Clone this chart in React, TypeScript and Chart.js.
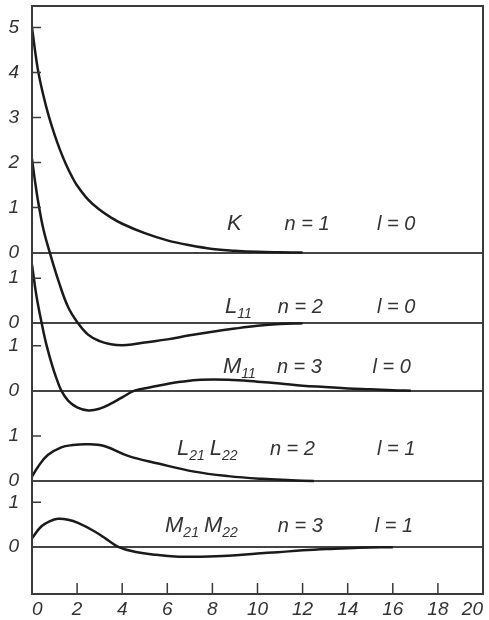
import { useEffect, useRef } from 'react';
import { Chart, registerables } from 'chart.js';

Chart.register(...registerables);

// ---- data (r in Bohr units, value of the radial function) ----
const kR = [0, 0.25, 0.5, 0.75, 1, 1.25, 1.5, 1.75, 2, 2.5, 3, 3.5, 4, 5, 6, 7, 8, 9, 10, 11, 12];
const kV = [5.0, 4.1, 3.5, 3.02, 2.62, 2.27, 1.97, 1.71, 1.49, 1.17, 0.95, 0.78, 0.64, 0.43, 0.27, 0.16, 0.08, 0.04, 0.015, 0.005, 0];

const l11R = [0, 0.15, 0.3, 0.5, 0.8, 1.2, 1.6, 2.04, 2.5, 3, 3.5, 4, 4.5, 5, 6, 7, 8, 9, 10, 11, 12];
const l11V = [3.65, 3.1, 2.62, 2.1, 1.55, 0.9, 0.36, 0, -0.26, -0.4, -0.47, -0.49, -0.47, -0.43, -0.36, -0.27, -0.19, -0.12, -0.06, -0.02, 0];

const m11R = [0, 0.2, 0.45, 0.65, 0.9, 1.1, 1.3, 1.6, 2.0, 2.5, 3.0, 3.5, 4.0, 4.55, 5.2, 6, 6.5, 7.5, 8.7, 10, 11, 12, 13, 14, 15, 16, 16.8];
const m11V = [2.8, 2.1, 1.45, 1.0, 0.55, 0.25, 0, -0.22, -0.37, -0.44, -0.4, -0.29, -0.15, 0, 0.07, 0.15, 0.19, 0.24, 0.24, 0.2, 0.16, 0.11, 0.08, 0.05, 0.03, 0.01, 0];

const l21R = [0, 0.27, 0.7, 1.3, 1.8, 2.4, 3.2, 4.26, 5.6, 7.2, 8.7, 10.2, 11.5, 12.5];
const l21V = [0.1, 0.32, 0.58, 0.75, 0.8, 0.82, 0.78, 0.56, 0.39, 0.21, 0.11, 0.05, 0.02, 0];

const m21R = [0, 0.41, 0.8, 1.15, 1.6, 2.04, 2.78, 3.3, 3.85, 4.55, 5.5, 6.5, 7.5, 8.7, 10, 10.9, 12, 13.1, 14.5, 16];
const m21V = [0.2, 0.46, 0.58, 0.63, 0.61, 0.54, 0.35, 0.18, 0, -0.1, -0.17, -0.21, -0.21, -0.19, -0.14, -0.11, -0.07, -0.04, -0.01, 0];

// tick labels
const xTickStep = 2;
const kTickLabels = ['0', '1', '2', '3', '4', '5'];
const unitTickLabels = ['0', '1'];

// baseline (zero level) of every panel on the shared vertical scale
const Y_MAX = 13.07;
const zeroK = 7.59;
const zeroL11 = 6.02;
const zeroM11 = 4.52;
const zeroL21 = 2.51;
const zeroM21 = 1.04;

const panels = [
  { zero: zeroM21, ticks: unitTickLabels },
  { zero: zeroL21, ticks: unitTickLabels },
  { zero: zeroM11, ticks: unitTickLabels },
  { zero: zeroL11, ticks: unitTickLabels },
  { zero: zeroK, ticks: kTickLabels },
];
const yTickPairs = panels
  .flatMap((p) => p.ticks.map((t) => ({ v: p.zero + Number(t), t })))
  .sort((a, b) => a.v - b.v);
const yTickValues = yTickPairs.map((p) => p.v);
const yTickTexts = yTickPairs.map((p) => p.t);

// annotation rows
const rows = [
  { zero: zeroK, dy: 0.5, name: [['K', '']], nameR: 8.65, nText: 'n = 1', nR: 11.2, lText: 'l = 0', lR: 15.3 },
  { zero: zeroL11, dy: 0.22, name: [['L', '11']], nameR: 8.56, nText: 'n = 2', nR: 10.9, lText: 'l = 0', lR: 15.3 },
  { zero: zeroM11, dy: 0.39, name: [['M', '11']], nameR: 8.47, nText: 'n = 3', nR: 10.86, lText: 'l = 0', lR: 15.1 },
  { zero: zeroL21, dy: 0.58, name: [['L', '21'], ['L', '22']], nameR: 6.43, nText: 'n = 2', nR: 10.55, lText: 'l = 1', lR: 15.3 },
  { zero: zeroM21, dy: 0.33, name: [['M', '21'], ['M', '22']], nameR: 5.9, nText: 'n = 3', nR: 10.9, lText: 'l = 1', lR: 15.2 },
];

const FONT = "'Liberation Sans', 'DejaVu Sans', sans-serif";
const INK = '#1a1a1a';
const TEXT = '#333';

const mk = (rs: number[], vs: number[], zero: number) => rs.map((r, i) => ({ x: r, y: zero + vs[i] }));

const decor = {
  id: 'decor',
  afterDatasetsDraw(chart: any) {
    const { ctx, chartArea: a } = chart;
    const xs = chart.scales.x;
    const ys = chart.scales.y;
    ctx.save();
    ctx.strokeStyle = '#3a3a3a';
    ctx.lineWidth = 2;
    ctx.strokeRect(a.left, a.top, a.right - a.left, a.bottom - a.top);
    ctx.lineWidth = 1.5;
    ctx.beginPath();
    yTickValues.forEach((v, i) => {
      if (yTickTexts[i] === '0') return;
      const py = ys.getPixelForValue(v);
      ctx.moveTo(a.left, py);
      ctx.lineTo(a.left + 9, py);
    });
    xs.ticks.forEach((t: any) => {
      if (t.value <= xs.min || t.value >= xs.max) return;
      const px = xs.getPixelForValue(t.value);
      ctx.moveTo(px, a.bottom);
      ctx.lineTo(px, a.bottom - 11);
    });
    ctx.stroke();

    ctx.fillStyle = TEXT;
    ctx.textBaseline = 'alphabetic';
    ctx.textAlign = 'left';
    rows.forEach((row) => {
      const by = ys.getPixelForValue(row.zero + row.dy);
      let cx = xs.getPixelForValue(row.nameR);
      row.name.forEach(([main, sub]) => {
        ctx.font = `italic 22px ${FONT}`;
        ctx.fillText(main, cx, by);
        cx += ctx.measureText(main).width;
        if (sub) {
          ctx.font = `italic 14px ${FONT}`;
          ctx.fillText(sub, cx, by + 5);
          cx += ctx.measureText(sub).width + 5;
        }
      });
      ctx.font = `italic 20px ${FONT}`;
      ctx.fillText(row.nText, xs.getPixelForValue(row.nR), by);
      ctx.fillText(row.lText, xs.getPixelForValue(row.lR), by);
    });
    ctx.restore();
  },
};

export default function App() {
  const ref = useRef<HTMLCanvasElement>(null);
  useEffect(() => {
    if (!ref.current) return;
    const line = (data: any[]) => ({
      data,
      borderColor: INK,
      borderWidth: 2.5,
      pointRadius: 0,
      fill: false,
      tension: 0.4,
    });
    const chart = new Chart(ref.current, {
      type: 'line',
      data: {
        datasets: [
          line(mk(kR, kV, zeroK)),
          line(mk(l11R, l11V, zeroL11)),
          line(mk(m11R, m11V, zeroM11)),
          line(mk(l21R, l21V, zeroL21)),
          line(mk(m21R, m21V, zeroM21)),
        ],
      },
      options: {
        responsive: false,
        maintainAspectRatio: false,
        devicePixelRatio: 1,
        animation: false,
        layout: { padding: { top: 6, right: 6, left: 0, bottom: 0 } },
        plugins: { legend: { display: false }, tooltip: { enabled: false } },
        scales: {
          x: {
            type: 'linear',
            min: 0,
            max: 20,
            position: 'bottom',
            grid: { display: false, drawTicks: false },
            border: { display: false },
            ticks: {
              stepSize: xTickStep,
              autoSkip: false,
              maxRotation: 0,
              padding: 4,
              align: 'inner',
              color: TEXT,
              font: { family: FONT, size: 19, style: 'italic' },
            },
            afterFit: (s: any) => {
              s.height = 26;
              s.paddingLeft = 0;
              s.paddingRight = 0;
            },
          },
          y: {
            type: 'linear',
            min: 0,
            max: Y_MAX,
            grid: {
              drawTicks: false,
              lineWidth: 2,
              color: (c: any) => (yTickTexts[c.index] === '0' ? '#444' : 'rgba(0,0,0,0)'),
            },
            border: { display: false },
            afterBuildTicks: (s: any) => {
              s.ticks = yTickValues.map((v) => ({ value: v }));
            },
            ticks: {
              autoSkip: false,
              padding: 13,
              color: TEXT,
              font: { family: FONT, size: 19, style: 'italic' },
              callback: (_v: any, i: number) => yTickTexts[i],
            },
            afterFit: (s: any) => {
              s.width = 32;
              s.paddingTop = 0;
              s.paddingBottom = 0;
            },
          },
        },
      },
      plugins: [decor],
    });
    return () => chart.destroy();
  }, []);
  return (
    <div style={{ position: 'absolute', left: 0, top: 0, width: 489, height: 620, background: '#fff' }}>
      <canvas ref={ref} width={489} height={620} style={{ display: 'block' }} />
    </div>
  );
}
